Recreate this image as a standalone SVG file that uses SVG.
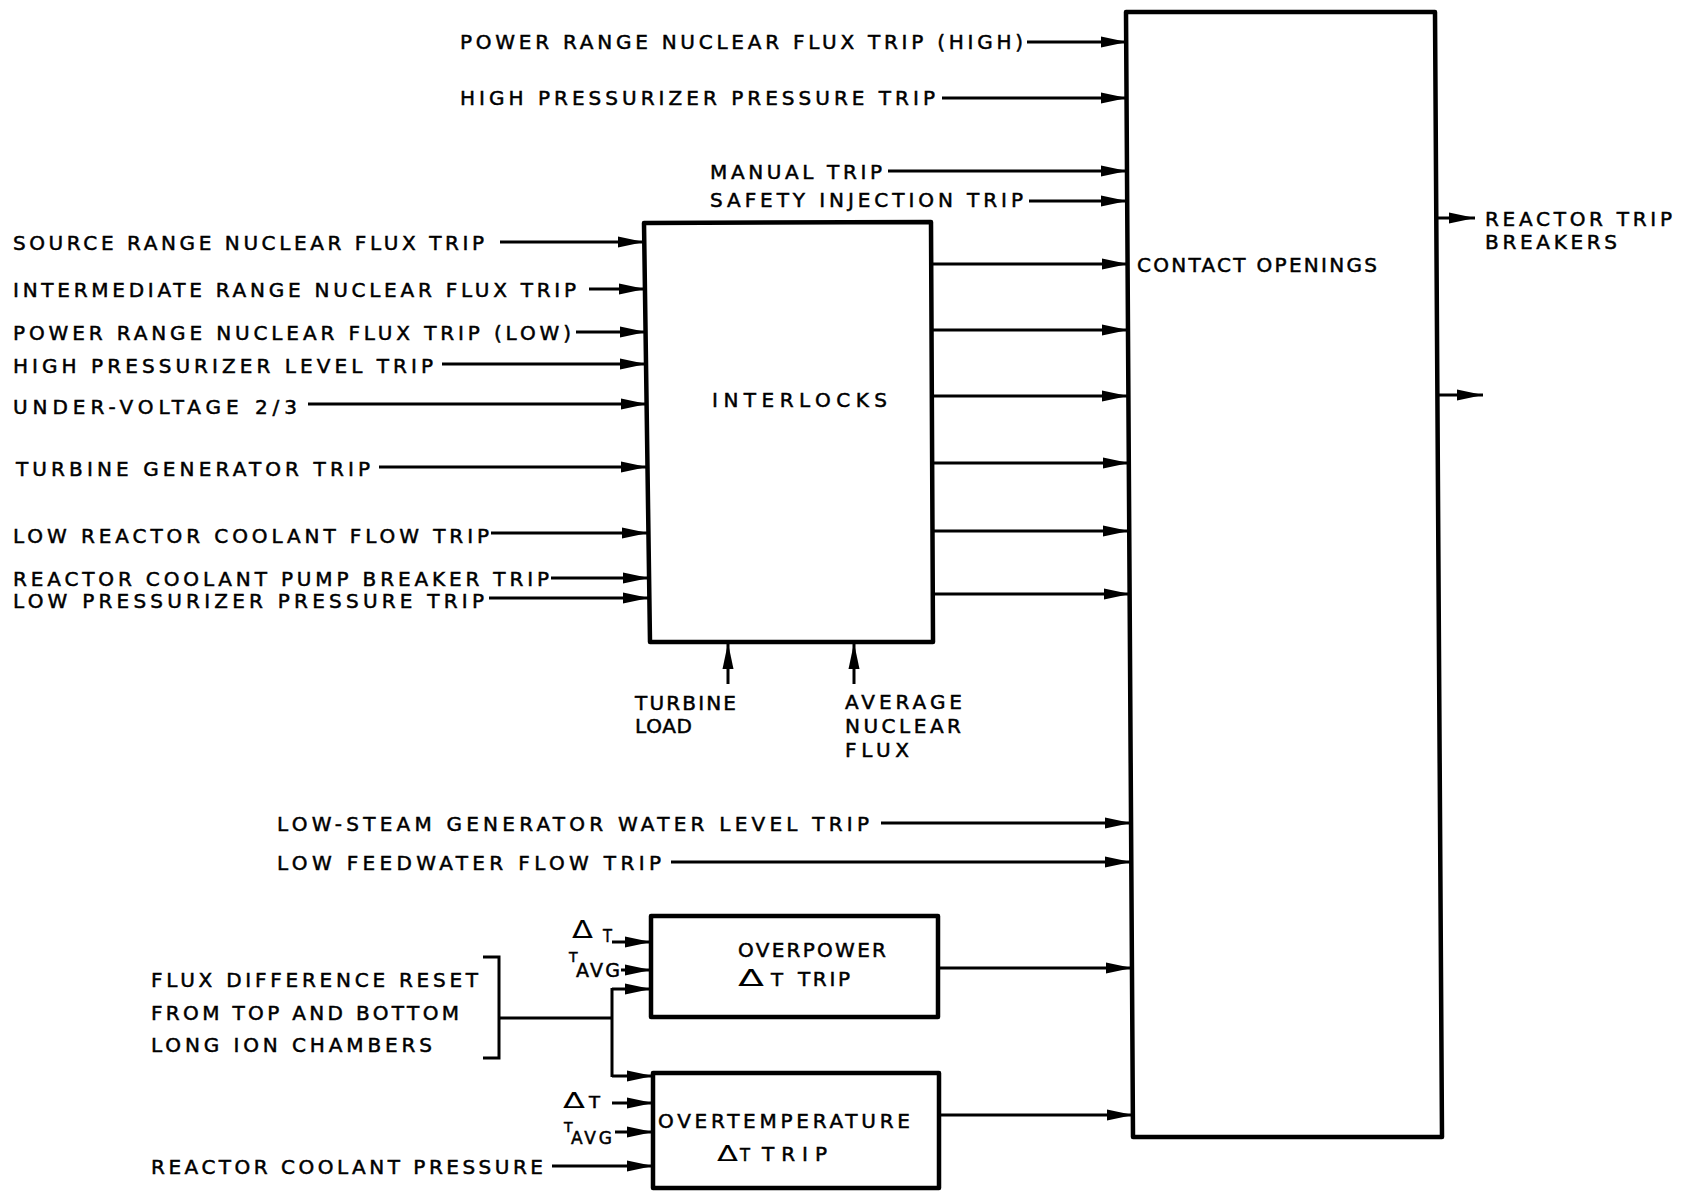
<svg xmlns="http://www.w3.org/2000/svg" width="1688" height="1191" viewBox="0 0 1688 1191">
<defs>
<style>
text{font-family:"DejaVu Sans","Liberation Sans",Arial,sans-serif;font-size:20px;fill:#000;stroke:#000;stroke-width:0.5}
.box{fill:none;stroke:#000;stroke-width:4.5;stroke-linejoin:round}
.ln{fill:none;stroke:#000;stroke-width:3}
.ar{fill:none;stroke:#000;stroke-width:3;marker-end:url(#ah)}
</style>
<marker id="ah" markerWidth="27" markerHeight="12" refX="26" refY="6" orient="auto" markerUnits="userSpaceOnUse">
<path d="M0,0.5 L26,6 L0,11.5 Z" fill="#000"/>
</marker>
</defs>
<rect width="1688" height="1191" fill="#fff"/>

<g id="contact-openings">
<path class="box" d="M1126,12 L1435,12 L1442,1137 L1133,1137 Z" stroke-width="5"/>
<text x="1137" y="272" textLength="240" lengthAdjust="spacing">CONTACT OPENINGS</text>
</g>

<g id="interlocks">
<path class="box" d="M644,223 L931,222 L933,642 L650,642 Z"/>
<text x="712" y="407" textLength="175" lengthAdjust="spacing">INTERLOCKS</text>
</g>

<g id="overpower">
<rect class="box" x="651" y="916" width="287" height="101"/>
<text x="738" y="957" textLength="148" lengthAdjust="spacing">OVERPOWER</text>
<text x="738" y="986" style="font-size:23px;stroke-width:0" textLength="26" lengthAdjust="spacingAndGlyphs">Δ</text>
<text x="771" y="986" style="font-size:17px" textLength="12" lengthAdjust="spacingAndGlyphs">T</text>
<text x="798" y="986" textLength="52" lengthAdjust="spacing">TRIP</text>
</g>

<g id="overtemperature">
<rect class="box" x="653" y="1073" width="286" height="115"/>
<text x="658" y="1128" textLength="252" lengthAdjust="spacing">OVERTEMPERATURE</text>
<text x="717" y="1161" style="font-size:21px;stroke-width:0" textLength="21" lengthAdjust="spacingAndGlyphs">Δ</text>
<text x="740" y="1161" style="font-size:17px" textLength="10" lengthAdjust="spacingAndGlyphs">T</text>
<text x="762" y="1161" textLength="65" lengthAdjust="spacing">TRIP</text>
</g>

<g id="input-labels">
<text x="460" y="49" textLength="563" lengthAdjust="spacing">POWER RANGE NUCLEAR FLUX TRIP (HIGH)</text>
<text x="460" y="105" textLength="475" lengthAdjust="spacing">HIGH PRESSURIZER PRESSURE TRIP</text>
<text x="710" y="179" textLength="172" lengthAdjust="spacing">MANUAL TRIP</text>
<text x="710" y="207" textLength="313" lengthAdjust="spacing">SAFETY INJECTION TRIP</text>
<text x="13" y="250" textLength="471" lengthAdjust="spacing">SOURCE RANGE NUCLEAR FLUX TRIP</text>
<text x="13" y="297" textLength="563" lengthAdjust="spacing">INTERMEDIATE RANGE NUCLEAR FLUX TRIP</text>
<text x="13" y="340" textLength="558" lengthAdjust="spacing">POWER RANGE NUCLEAR FLUX TRIP (LOW)</text>
<text x="13" y="373" textLength="420" lengthAdjust="spacing">HIGH PRESSURIZER LEVEL TRIP</text>
<text x="13" y="414" textLength="284" lengthAdjust="spacing">UNDER-VOLTAGE 2/3</text>
<text x="16" y="476" textLength="354" lengthAdjust="spacing">TURBINE GENERATOR TRIP</text>
<text x="13" y="543" textLength="476" lengthAdjust="spacing">LOW REACTOR COOLANT FLOW TRIP</text>
<text x="13" y="586" textLength="536" lengthAdjust="spacing">REACTOR COOLANT PUMP BREAKER TRIP</text>
<text x="13" y="608" textLength="471" lengthAdjust="spacing">LOW PRESSURIZER PRESSURE TRIP</text>
<text x="635" y="710" textLength="101" lengthAdjust="spacing">TURBINE</text>
<text x="635" y="733" textLength="57" lengthAdjust="spacing">LOAD</text>
<text x="845" y="709" textLength="117" lengthAdjust="spacing">AVERAGE</text>
<text x="845" y="733" textLength="116" lengthAdjust="spacing">NUCLEAR</text>
<text x="845" y="757" textLength="64" lengthAdjust="spacing">FLUX</text>
<text x="277" y="831" textLength="592" lengthAdjust="spacing">LOW-STEAM GENERATOR WATER LEVEL TRIP</text>
<text x="277" y="870" textLength="384" lengthAdjust="spacing">LOW FEEDWATER FLOW TRIP</text>
<text x="151" y="987" textLength="327" lengthAdjust="spacing">FLUX DIFFERENCE RESET</text>
<text x="151" y="1020" textLength="308" lengthAdjust="spacing">FROM TOP AND BOTTOM</text>
<text x="151" y="1052" textLength="281" lengthAdjust="spacing">LONG ION CHAMBERS</text>
<text x="151" y="1174" textLength="392" lengthAdjust="spacing">REACTOR COOLANT PRESSURE</text>
<text x="572" y="938" style="font-size:24px;stroke-width:0" textLength="21" lengthAdjust="spacingAndGlyphs">Δ</text>
<text x="603" y="942" style="font-size:18px" textLength="9" lengthAdjust="spacingAndGlyphs">T</text>
<text x="569" y="962" style="font-size:14px">T</text>
<text x="576" y="977" style="font-size:19px" textLength="44" lengthAdjust="spacing">AVG</text>
<text x="563" y="1108" style="font-size:21px;stroke-width:0" textLength="22" lengthAdjust="spacingAndGlyphs">Δ</text>
<text x="589" y="1108" style="font-size:15px" textLength="11" lengthAdjust="spacingAndGlyphs">T</text>
<text x="564" y="1132" style="font-size:14px">T</text>
<text x="571" y="1144" style="font-size:17px" textLength="41" lengthAdjust="spacing">AVG</text>
</g>

<g id="output-labels">
<text x="1485" y="226" textLength="187" lengthAdjust="spacing">REACTOR TRIP</text>
<text x="1485" y="249" textLength="132" lengthAdjust="spacing">BREAKERS</text>
</g>

<g id="connectors">
<path class="ar" d="M1027,42 L1127,42"/>
<path class="ar" d="M942,98 L1127,98"/>
<path class="ar" d="M888,171 L1127,171"/>
<path class="ar" d="M1029,201 L1127,201"/>
<path class="ar" d="M933,264 L1128,264"/>
<path class="ar" d="M933,330 L1128,330"/>
<path class="ar" d="M933,396 L1128,396"/>
<path class="ar" d="M933,463 L1129,463"/>
<path class="ar" d="M933,531 L1129,531"/>
<path class="ar" d="M933,594 L1130,594"/>
<path class="ar" d="M500,242 L644,242"/>
<path class="ar" d="M589,289 L645,289"/>
<path class="ar" d="M576,332 L646,332"/>
<path class="ar" d="M442,364 L646,364"/>
<path class="ar" d="M308,404 L647,404"/>
<path class="ar" d="M379,467 L647,467"/>
<path class="ar" d="M491,533 L648,533"/>
<path class="ar" d="M551,578 L649,578"/>
<path class="ar" d="M489,598 L649,598"/>
<path class="ar" d="M728,684 L728,643"/>
<path class="ar" d="M854,684 L854,643"/>
<path class="ar" d="M881,823 L1131,823"/>
<path class="ar" d="M671,862 L1131,862"/>
<path class="ar" d="M938,968 L1132,968"/>
<path class="ar" d="M939,1115 L1133,1115"/>
<path class="ar" d="M1436,218 L1475,218"/>
<path class="ar" d="M1437,395 L1483,395"/>
<path class="ar" d="M612,942 L651,942"/>
<path class="ar" d="M621,970 L651,970"/>
<path class="ar" d="M612,989 L651,989"/>
<path class="ln" d="M483,957 L499,957 L499,1058 L483,1058"/>
<path class="ln" d="M499,1018 L612,1018"/>
<path class="ln" d="M612,988 L612,1077"/>
<path class="ar" d="M612,1076 L653,1076"/>
<path class="ar" d="M612,1103 L653,1103"/>
<path class="ar" d="M615,1132 L653,1132"/>
<path class="ar" d="M552,1166 L653,1166"/>
</g>
</svg>
